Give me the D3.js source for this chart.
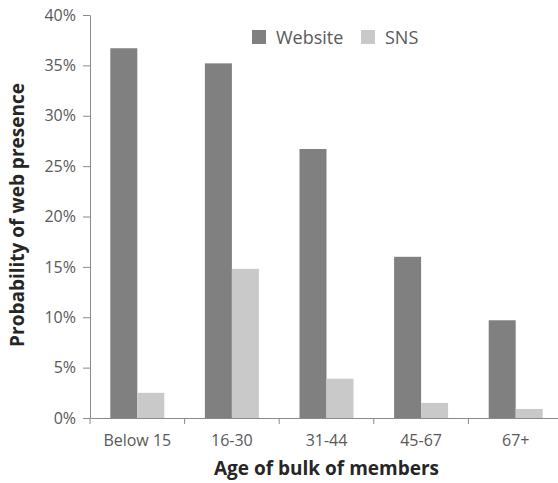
<!DOCTYPE html>
<html>
<head>
<meta charset="utf-8">
<script src="https://cdn.jsdelivr.net/npm/d3@7"></script>
<style>
  body { margin: 0; background: #fff; }
  svg { display: block; font-family: "Open Sans", sans-serif; }
</style>
</head>
<body>
<svg width="558" height="483"></svg>
<script>
var ageGroups = ["Below 15", "16-30", "31-44", "45-67", "67+"]
var seriesNames = ["Website", "SNS"]
var websiteValues = [0.367, 0.352, 0.267, 0.160, 0.097]
var snsValues = [0.025, 0.148, 0.039, 0.015, 0.009]
var yTicks = [0, 0.05, 0.10, 0.15, 0.20, 0.25, 0.30, 0.35, 0.40]

var colors = { Website: "#808080", SNS: "#c9c9c9" }

var svg = d3.select("svg")
var plotLeft = 90, plotRight = 563, plotTop = 15, plotBottom = 418

var x = d3.scaleBand().domain(ageGroups).range([plotLeft, plotRight])
var xInner = d3.scaleBand().domain(seriesNames).range([0, 54])
var y = d3.scaleLinear().domain([0, 0.4]).range([plotBottom, plotTop])

var rows = ageGroups.map(function (g, i) {
    return { group: g, Website: websiteValues[i], SNS: snsValues[i] }
})

// bars
var groups = svg.selectAll(".grp")
    .data(rows)
    .enter()
    .append("g")
    .attr("transform", d => "translate(" + (x(d.group) + (x.bandwidth() - 54) / 2) + ",0)")

groups.selectAll("rect")
    .data(d => seriesNames.map(k => ({ key: k, value: d[k] })))
    .enter()
    .append("rect")
    .attr("x", d => xInner(d.key))
    .attr("width", xInner.bandwidth())
    .attr("y", d => y(d.value))
    .attr("height", d => plotBottom - y(d.value))
    .attr("fill", d => colors[d.key])

// y axis
var yAxis = svg.append("g")
    .attr("transform", "translate(" + plotLeft + ",0)")
    .call(d3.axisLeft(y).tickValues(yTicks).tickFormat(d3.format(".0%")).tickSize(7).tickSizeOuter(0))
yAxis.select(".domain").attr("stroke", "#8a8a8a")
yAxis.selectAll(".tick line").attr("stroke", "#8a8a8a")
yAxis.selectAll(".tick text")
    .attr("fill", "#595959")
    .attr("font-size", "16px")
    .attr("font-family", "Open Sans, sans-serif")
    .attr("x", -14)

// x axis
var xAxis = svg.append("g")
    .attr("transform", "translate(0," + plotBottom + ")")
    .call(d3.axisBottom(x).tickSize(0).tickSizeOuter(0))
xAxis.select(".domain").attr("stroke", "#8a8a8a")
xAxis.selectAll(".tick text")
    .attr("fill", "#595959")
    .attr("font-size", "16px")
    .attr("font-family", "Open Sans, sans-serif")
    .attr("dy", "1.55em")

// tick marks at band edges
var edges = ageGroups.map(g => x(g)).concat([plotRight])
xAxis.selectAll(".edge")
    .data(edges)
    .enter()
    .append("line")
    .attr("x1", d => d).attr("x2", d => d)
    .attr("y1", 0).attr("y2", 6)
    .attr("stroke", "#8a8a8a")

// legend
var legendX = [252, 361]
var legend = svg.selectAll(".leg")
    .data(seriesNames)
    .enter()
    .append("g")
    .attr("transform", (d, i) => "translate(" + legendX[i] + ",30)")
legend.append("rect")
    .attr("width", 14).attr("height", 14)
    .attr("fill", d => colors[d])
legend.append("text")
    .attr("x", 24).attr("y", 14)
    .attr("font-size", "18px")
    .attr("fill", "#595959")
    .text(d => d)

// axis titles
svg.append("text")
    .attr("x", (plotLeft + plotRight) / 2)
    .attr("y", 475)
    .attr("text-anchor", "middle")
    .attr("font-size", "19px")
    .attr("font-weight", "bold")
    .attr("fill", "#262626")
    .text("Age of bulk of members")

svg.append("text")
    .attr("transform", "translate(24,215) rotate(-90)")
    .attr("text-anchor", "middle")
    .attr("font-size", "19px")
    .attr("font-weight", "bold")
    .attr("fill", "#262626")
    .text("Probability of web presence")
</script>
</body>
</html>
